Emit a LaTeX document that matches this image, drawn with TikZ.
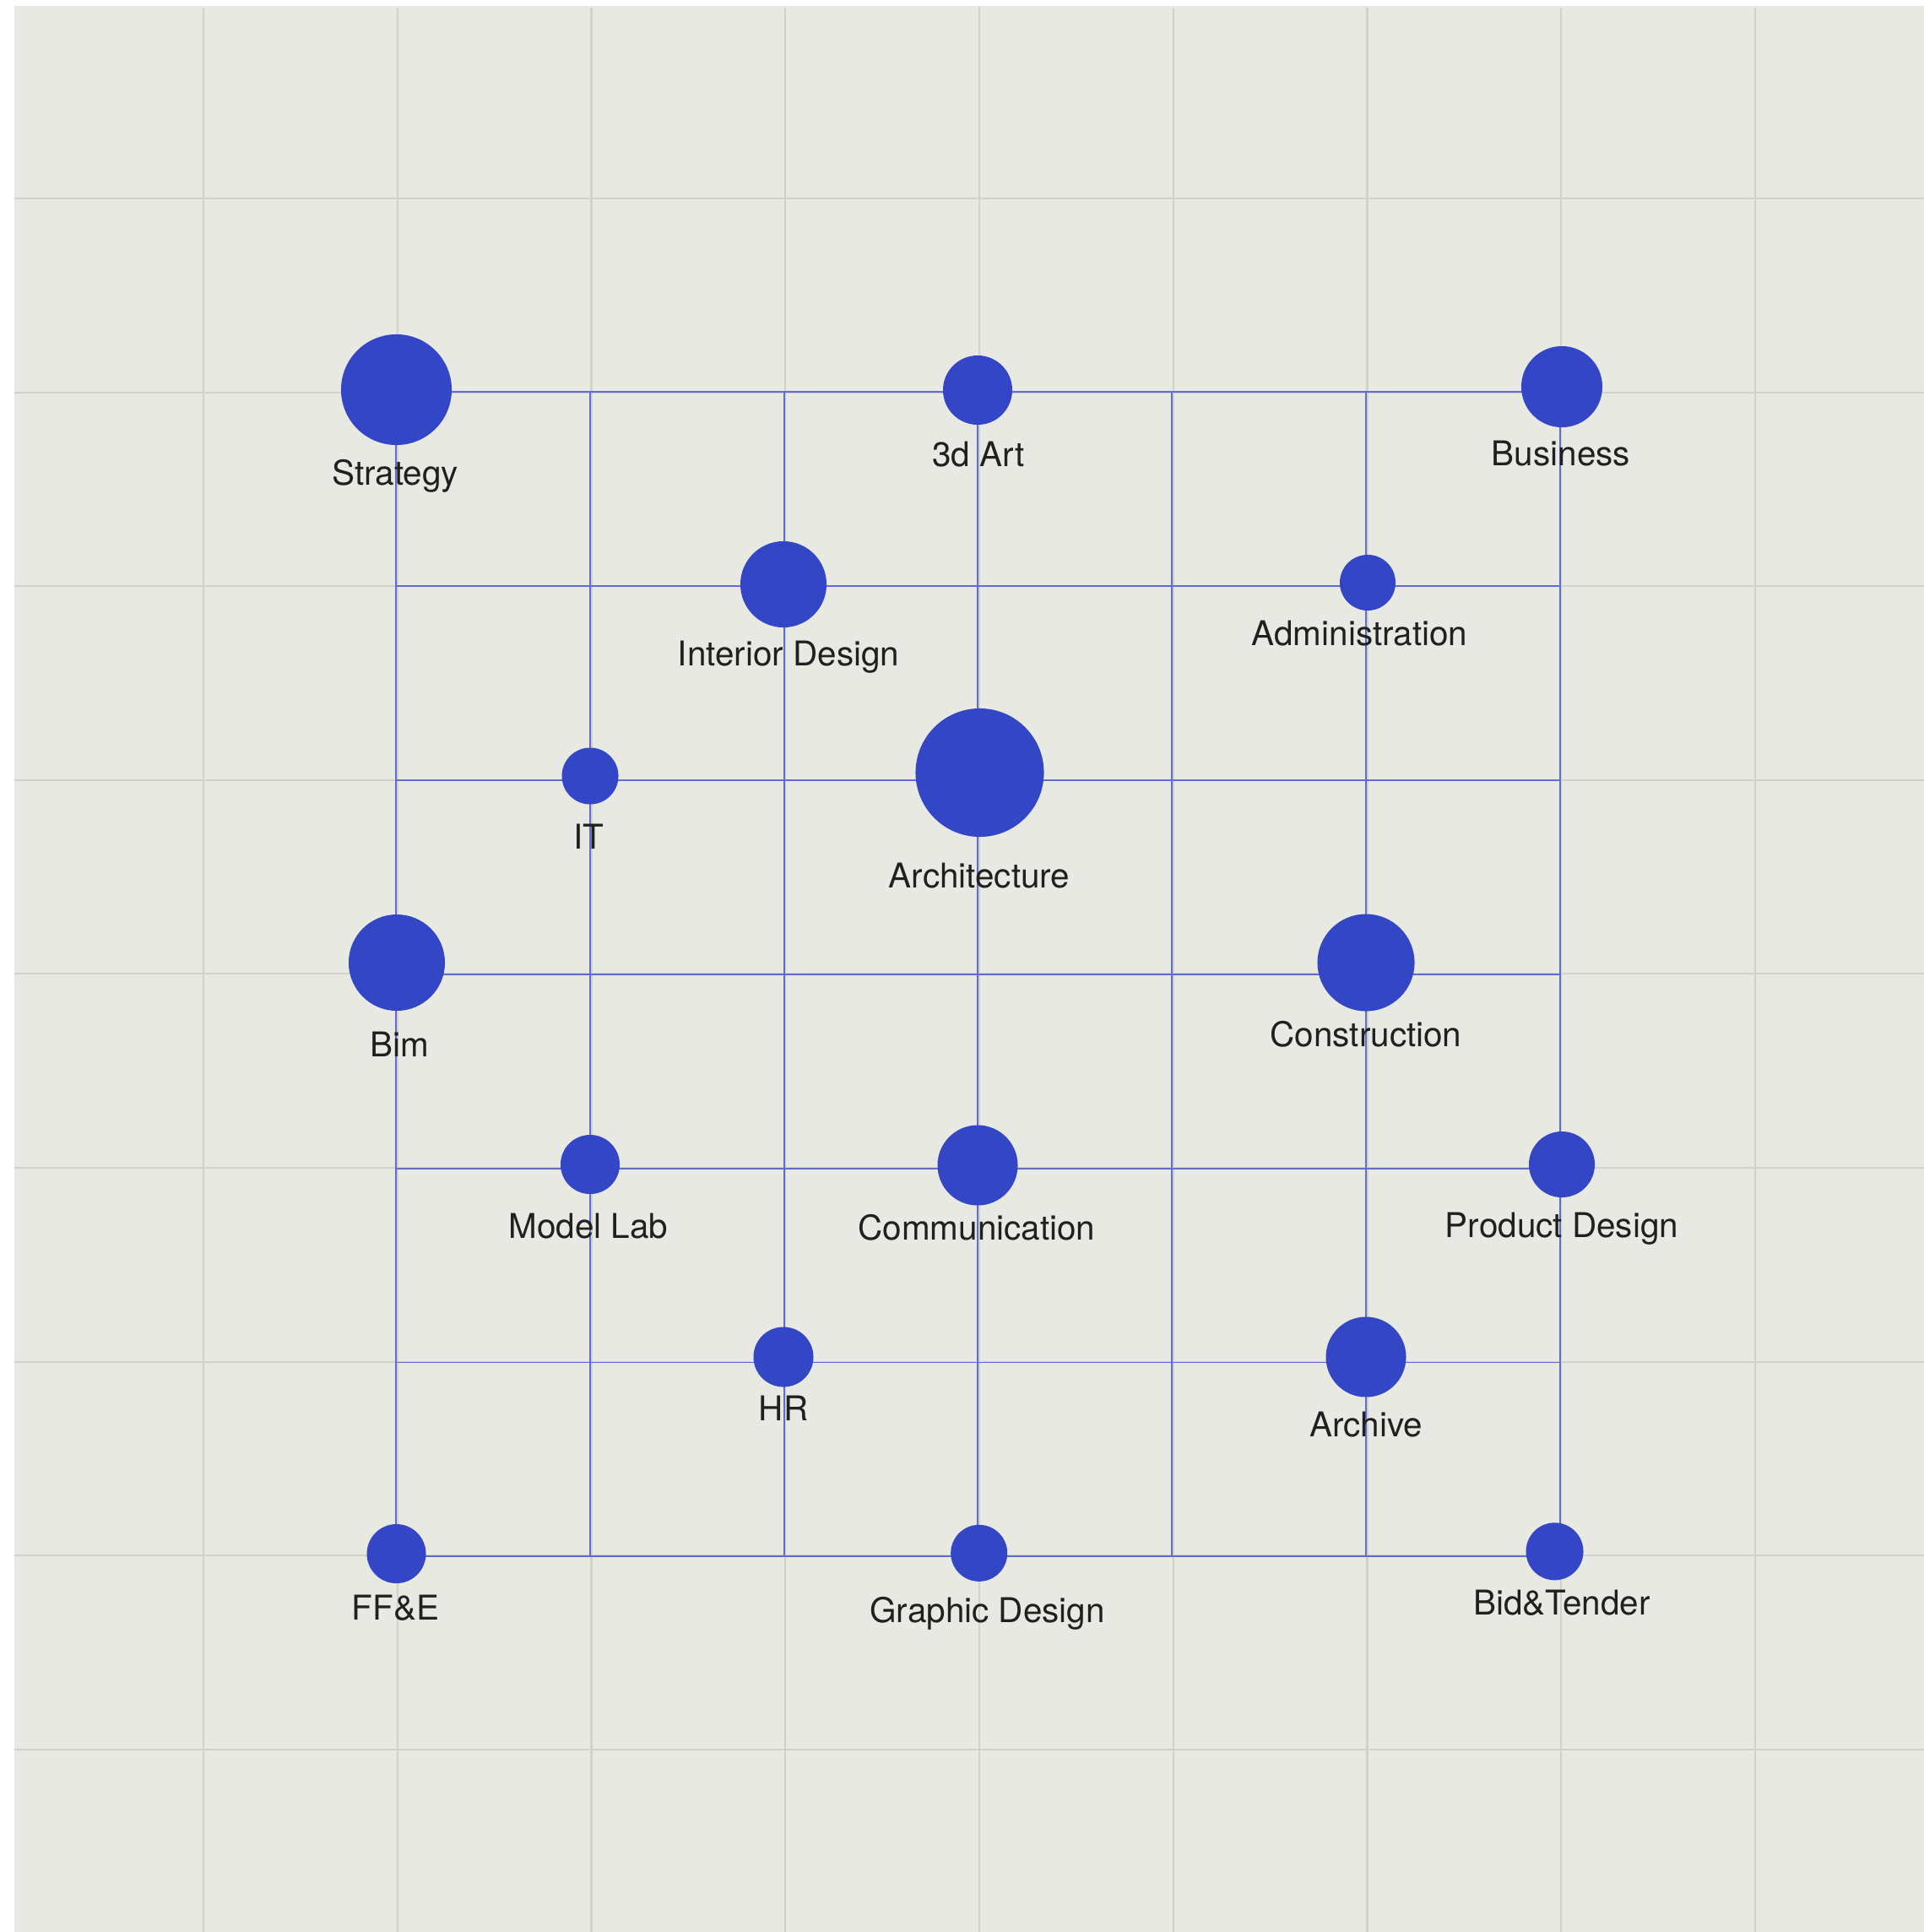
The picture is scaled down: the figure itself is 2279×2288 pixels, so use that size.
\documentclass[tikz,border=0pt]{standalone}
\usepackage{fontspec}
\setmainfont{TeX Gyre Heros}
\usepackage{tikz}

\definecolor{paper}{RGB}{233,233,228}
\definecolor{gridgray}{RGB}{210,210,205}
\definecolor{linkblue}{RGB}{96,108,206}
\definecolor{dotblue}{RGB}{51,70,198}
\definecolor{ink}{RGB}{32,32,32}

\tikzset{
  dept/.style={circle,fill=dotblue,inner sep=0pt,minimum size=#1},
  tag/.style={anchor=base,text=ink,inner sep=0pt,font=\fontsize{11.5}{13}\selectfont},
  link/.style={draw=linkblue,line width=0.55pt},
  cell/.style={draw=gridgray,line width=0.6pt}
}

\begin{document}
\begin{tikzpicture}[x=0.01cm,y=-0.01cm]
\useasboundingbox (0,0) rectangle (2279,2288);
\fill[paper] (17,7) rectangle (2279,2288);

% background grid
\foreach \k in {0,...,8} {
  \draw[cell] (241+229.75*\k,9) -- (241+229.75*\k,2288);
  \draw[cell] (17,235+229.6*\k) -- (2279,235+229.6*\k);
}

% blue frame
\coordinate (nw) at (469,464);
\coordinate (se) at (1848,1843);
\foreach \j in {0,...,6} {
  \draw[link] (469+229.8*\j,464) -- (469+229.8*\j,1843);
  \draw[link] (469,464+229.9*\j) -- (1848,464+229.9*\j);
}

% departments
\node[dept=1.31cm] (strategy) at (469.5,461.5) {};
\node[dept=0.82cm] (art3d) at (1158,462) {};
\node[dept=0.96cm] (business) at (1850,458) {};
\node[dept=1.02cm] (interior) at (928,692) {};
\node[dept=0.66cm] (admin) at (1620,690) {};
\node[dept=0.67cm] (it) at (699,919) {};
\node[dept=1.52cm] (architecture) at (1160.5,915) {};
\node[dept=1.14cm] (bim) at (470,1140) {};
\node[dept=1.15cm] (construction) at (1618,1140) {};
\node[dept=0.70cm] (modellab) at (699,1379) {};
\node[dept=0.95cm] (communication) at (1158,1380) {};
\node[dept=0.78cm] (product) at (1850,1379) {};
\node[dept=0.71cm] (hr) at (928,1607) {};
\node[dept=0.95cm] (archive) at (1618,1607) {};
\node[dept=0.70cm] (ffe) at (469.5,1840) {};
\node[dept=0.67cm] (graphic) at (1159.7,1839.3) {};
\node[dept=0.68cm] (bidtender) at (1841.5,1837.3) {};

% labels
\node[tag] (strategy-l) at (468,574) {Strategy};
\node[tag] (art3d-l) at (1158.7,552) {3d Art};
\node[tag] (business-l) at (1849,551) {Business};
\node[tag] (interior-l) at (934,788) {Interior Design};
\node[tag] (admin-l) at (1610.5,764) {Administration};
\node[tag] (it-l) at (697,1005) {IT};
\node[tag] (architecture-l) at (1160,1051) {Architecture};
\node[tag] (bim-l) at (473.5,1251) {Bim};
\node[tag] (construction-l) at (1618,1239) {Construction};
\node[tag] (modellab-l) at (697,1466) {Model Lab};
\node[tag] (communication-l) at (1157,1468) {Communication};
\node[tag] (product-l) at (1850,1465) {Product Design};
\node[tag] (hr-l) at (928,1682) {HR};
\node[tag] (archive-l) at (1618,1701) {Archive};
\node[tag] (ffe-l) at (468.5,1918) {FF\&E};
\node[tag] (graphic-l) at (1169.5,1921) {Graphic Design};
\node[tag] (bidtender-l) at (1850,1912) {Bid\&Tender};
\end{tikzpicture}
\end{document}
